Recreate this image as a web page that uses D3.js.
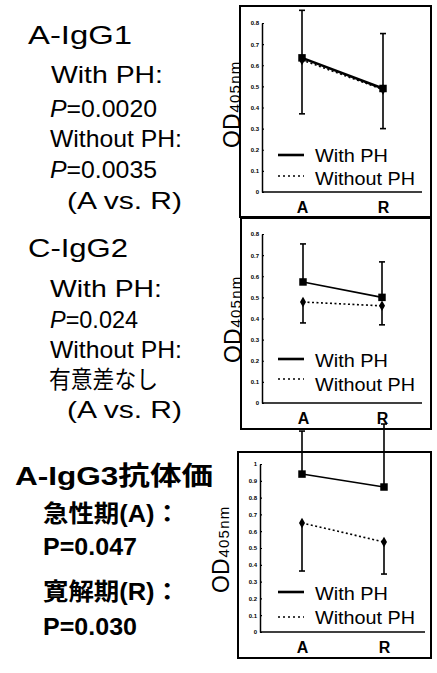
<!DOCTYPE html>
<html>
<head>
<meta charset="utf-8">
<script src="https://cdn.jsdelivr.net/npm/d3@7"></script>
<style>
  html, body { margin: 0; padding: 0; background: #fff; }
  svg { display: block; }
  text { font-family: "Liberation Sans", "Noto Sans CJK JP", sans-serif; fill: #000; }
</style>
</head>
<body>
<svg id="chart" width="437" height="673"></svg>
<script>
// ---- data ----------------------------------------------------------
const categories = ["A", "R"];
const seriesNames = ["With PH", "Without PH"];

// A-IgG1, OD405nm
const igg1WithPH = [0.635, 0.49];
const igg1WithoutPH = [0.625, 0.485];
const igg1WithPHUpper = [0.86, 0.75];
const igg1WithoutPHLower = [0.37, 0.30];

// C-IgG2, OD405nm
const igg2WithPH = [0.573, 0.50];
const igg2WithoutPH = [0.478, 0.46];
const igg2WithPHUpper = [0.753, 0.668];
const igg2WithoutPHLower = [0.379, 0.37];

// A-IgG3, OD405nm
const igg3WithPH = [0.94, 0.863];
const igg3WithoutPH = [0.649, 0.536];
const igg3WithPHUpper = [1.196, 1.238];
const igg3WithoutPHLower = [0.363, 0.345];

const yTicksLow = [0, 0.1, 0.2, 0.3, 0.4, 0.5, 0.6, 0.7, 0.8];
const yTicksHigh = [0, 0.1, 0.2, 0.3, 0.4, 0.5, 0.6, 0.7, 0.8, 0.9, 1];
const yLabelMain = "OD";
const yLabelSub = "405nm";

// annotation text beside each panel
const notes1 = ["A-IgG1", "With PH:", "P=0.0020", "Without PH:", "P=0.0035", "(A vs. R)"];
const notes2 = ["C-IgG2", "With PH:", "P=0.024", "Without PH:", "有意差なし", "(A vs. R)"];
const notes3 = ["A-IgG3抗体価", "急性期(A)：", "P=0.047", "寛解期(R)：", "P=0.030"];

// ---- layout --------------------------------------------------------
const notesLayout1 = [
  { x: 28, y: 44, w: 104, size: 25 },
  { x: 51, y: 83, w: 112, size: 24 },
  { x: 50, y: 117, w: 107, size: 24, italicP: true },
  { x: 50, y: 147, w: 132, size: 24 },
  { x: 50, y: 178, w: 107, size: 24, italicP: true },
  { x: 67, y: 209, w: 115, size: 24 }
];
const notesLayout2 = [
  { x: 28, y: 257, w: 100, size: 25 },
  { x: 50, y: 297, w: 112, size: 24 },
  { x: 50, y: 328, w: 88, size: 24, italicP: true },
  { x: 50, y: 358, w: 132, size: 24 },
  { x: 49, y: 388, w: 109, size: 24 },
  { x: 67, y: 418, w: 115, size: 24 }
];
const notesLayout3 = [
  { x: 15, y: 485, w: 198, size: 26, bold: true },
  { x: 43, y: 522, w: 137, size: 24, bold: true },
  { x: 43, y: 555, w: 94, size: 24, bold: true },
  { x: 43, y: 600, w: 137, size: 24, bold: true },
  { x: 43, y: 635, w: 94, size: 24, bold: true }
];

const panels = [
  {
    box: [240, 6, 191, 211], left: 262, right: 422, xA: 302, xR: 383,
    y0: 192, yTop: 23, yMax: 0.8, ticks: yTicksLow, labelPad: 10, lineW: 2.6,
    legend: { x: 278, y1: 155, y2: 176, t1: 162, t2: 185 },
    od: { x: 240, y: 148 },
    withPH: igg1WithPH, withoutPH: igg1WithoutPH,
    upper: igg1WithPHUpper, lower: igg1WithoutPHLower
  },
  {
    box: [241, 218, 190, 211], left: 262, right: 422, xA: 303, xR: 382,
    y0: 403, yTop: 234, yMax: 0.8, ticks: yTicksLow, labelPad: 10, lineW: 1.6,
    legend: { x: 278, y1: 359, y2: 379, t1: 367, t2: 391 },
    od: { x: 241, y: 363 },
    withPH: igg2WithPH, withoutPH: igg2WithoutPH,
    upper: igg2WithPHUpper, lower: igg2WithoutPHLower
  },
  {
    box: [238, 452, 193, 206], left: 260, right: 425, xA: 302, xR: 384,
    y0: 632, yTop: 464, yMax: 1, ticks: yTicksHigh, labelPad: 10, lineW: 1.6,
    legend: { x: 278, y1: 592, y2: 617, t1: 600, t2: 624 },
    od: { x: 229, y: 593 },
    withPH: igg3WithPH, withoutPH: igg3WithoutPH,
    upper: igg3WithPHUpper, lower: igg3WithoutPHLower
  }
];

const svg = d3.select("#chart");

// ---- side notes ----------------------------------------------------
function drawNotes(lines, layout) {
  lines.forEach((line, i) => {
    const L = layout[i];
    const t = svg.append("text")
      .attr("x", L.x).attr("y", L.y)
      .attr("font-size", L.size)
      .attr("font-weight", L.bold ? "bold" : "normal")
      .attr("textLength", L.w)
      .attr("lengthAdjust", "spacingAndGlyphs");
    if (L.italicP && line.startsWith("P")) {
      t.append("tspan").attr("font-style", "italic").text("P");
      t.append("tspan").text(line.slice(1));
    } else {
      t.text(line);
    }
  });
}
drawNotes(notes1, notesLayout1);
drawNotes(notes2, notesLayout2);
drawNotes(notes3, notesLayout3);

// ---- panels --------------------------------------------------------
const fmt = d => d === 0 ? "0" : (d === 1 ? "1" : d.toFixed(1));

function drawPanel(p) {
  const g = svg.append("g");
  const y = d3.scaleLinear().domain([0, p.yMax]).range([p.y0, p.yTop]);
  const x = d3.scalePoint().domain(categories).range([p.xA, p.xR]);

  // frame
  g.append("rect")
    .attr("x", p.box[0]).attr("y", p.box[1])
    .attr("width", p.box[2]).attr("height", p.box[3])
    .attr("fill", "none").attr("stroke", "#000").attr("stroke-width", 2);

  // y axis
  const yAxis = g.append("g")
    .attr("transform", `translate(${p.left},0)`)
    .call(d3.axisLeft(y).tickValues(p.ticks).tickFormat(fmt)
      .tickSizeInner(-2).tickSizeOuter(0).tickPadding(3));
  yAxis.select(".domain").attr("stroke-width", 1.5);
  yAxis.selectAll(".tick line").attr("stroke-width", 1.2);
  yAxis.selectAll(".tick text")
    .attr("font-size", 6).attr("font-weight", "bold")
    .attr("font-family", "Liberation Sans, sans-serif");

  // x axis base line and category labels
  g.append("line")
    .attr("x1", p.left).attr("x2", p.right)
    .attr("y1", y(0)).attr("y2", y(0))
    .attr("stroke", "#000").attr("stroke-width", 1.5);
  const xAxis = g.append("g")
    .attr("transform", `translate(0,${y(0)})`)
    .call(d3.axisBottom(x).tickSize(0).tickPadding(p.labelPad));
  xAxis.select(".domain").remove();
  xAxis.selectAll(".tick text")
    .attr("font-size", 16).attr("font-weight", "bold")
    .attr("font-family", "Liberation Sans, sans-serif");

  // error bars: upward for With PH, downward for Without PH
  const cap = 3;
  categories.forEach((c, i) => {
    const cx = x(c);
    [[p.withPH[i], p.upper[i]], [p.withoutPH[i], p.lower[i]]].forEach(([from, to]) => {
      g.append("line")
        .attr("x1", cx).attr("x2", cx)
        .attr("y1", y(from)).attr("y2", y(to))
        .attr("stroke", "#000").attr("stroke-width", 1.6);
      g.append("line")
        .attr("x1", cx - cap).attr("x2", cx + cap)
        .attr("y1", y(to)).attr("y2", y(to))
        .attr("stroke", "#000").attr("stroke-width", 1.6);
    });
  });

  const line = d3.line().x((d, i) => x(categories[i])).y(d => y(d));

  g.append("path").datum(p.withPH)
    .attr("d", line).attr("fill", "none")
    .attr("stroke", "#000").attr("stroke-width", p.lineW);
  g.append("path").datum(p.withoutPH)
    .attr("d", line).attr("fill", "none")
    .attr("stroke", "#000").attr("stroke-width", 1.6)
    .attr("stroke-dasharray", "2,2.5");

  // markers
  g.selectAll(".sq").data(p.withPH).enter().append("path")
    .attr("transform", (d, i) => `translate(${x(categories[i])},${y(d)})`)
    .attr("d", d3.symbol(d3.symbolSquare, 56)());
  g.selectAll(".dm").data(p.withoutPH).enter().append("path")
    .attr("transform", (d, i) => `translate(${x(categories[i])},${y(d)})`)
    .attr("d", d3.symbol(d3.symbolDiamond, 32)());

  // legend
  const lg = p.legend;
  g.append("line")
    .attr("x1", lg.x).attr("x2", lg.x + 26)
    .attr("y1", lg.y1).attr("y2", lg.y1)
    .attr("stroke", "#000").attr("stroke-width", 2.6);
  g.append("line")
    .attr("x1", lg.x).attr("x2", lg.x + 26)
    .attr("y1", lg.y2).attr("y2", lg.y2)
    .attr("stroke", "#000").attr("stroke-width", 1.6)
    .attr("stroke-dasharray", "2,3");
  g.append("text").attr("x", lg.x + 37).attr("y", lg.t1)
    .attr("font-size", 18).attr("textLength", 73)
    .attr("lengthAdjust", "spacingAndGlyphs").text(seriesNames[0]);
  g.append("text").attr("x", lg.x + 37).attr("y", lg.t2)
    .attr("font-size", 18).attr("textLength", 100)
    .attr("lengthAdjust", "spacingAndGlyphs").text(seriesNames[1]);

  // y axis title: OD with subscript 405nm, reading upward
  const od = svg.append("text")
    .attr("transform", `translate(${p.od.x},${p.od.y}) rotate(-90)`);
  od.append("tspan").attr("font-size", 23).text(yLabelMain);
  od.append("tspan").attr("font-size", 15).attr("dx", 1)
    .attr("letter-spacing", 1.2).text(yLabelSub);
}

panels.forEach(drawPanel);
</script>
</body>
</html>
